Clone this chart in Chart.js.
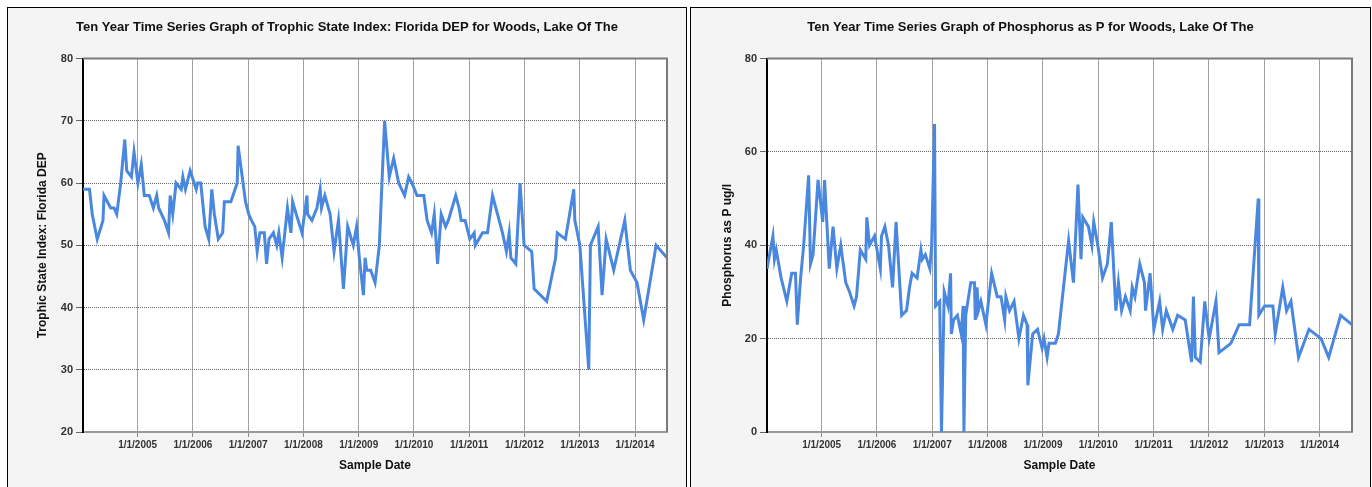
<!DOCTYPE html>
<html>
<head>
<meta charset="utf-8">
<script src="https://cdn.jsdelivr.net/npm/chart.js@4.4.1/dist/chart.umd.min.js"></script>
<style>
  body { margin: 0; background: #fff; width: 1372px; height: 487px; overflow: hidden; position: relative; }
  .panel { position: absolute; top: 7px; height: 500px; background: #f4f4f4; border: 1px solid #000; box-sizing: border-box; }
  .panel canvas { position: absolute; left: 0; top: 0; }
</style>
</head>
<body>
<div class="panel" style="left:7px;width:680px"><canvas id="tsi" width="678" height="478"></canvas></div>
<div class="panel" style="left:690px;width:681px"><canvas id="phos" width="679" height="478"></canvas></div>
<script>
// tick years shown on the date axis
var yearTicks = [2005, 2006, 2007, 2008, 2009, 2010, 2011, 2012, 2013, 2014];

// Trophic State Index: Florida DEP
var tsiDates = [
  '2004-01-06','2004-02-18','2004-03-07','2004-04-09','2004-05-17','2004-05-24','2004-07-07','2004-07-29','2004-08-16','2004-09-11',
  '2004-10-08','2004-10-21','2004-11-21','2004-12-08','2005-01-03','2005-01-25','2005-02-14','2005-03-19','2005-04-15','2005-05-07',
  '2005-05-20','2005-06-27','2005-07-24','2005-08-04','2005-08-21','2005-09-12','2005-10-16','2005-10-27','2005-11-13','2005-12-14',
  '2006-01-23','2006-02-01','2006-02-22','2006-03-23','2006-04-16','2006-05-06','2006-05-23','2006-06-18','2006-07-17','2006-07-28',
  '2006-09-09','2006-10-21','2006-10-27','2006-12-15','2007-01-05','2007-01-23','2007-02-14','2007-03-02','2007-03-20','2007-04-18',
  '2007-05-03','2007-05-19','2007-06-17','2007-07-09','2007-07-23','2007-08-14','2007-09-18','2007-10-11','2007-10-22','2007-11-15',
  '2007-12-23','2008-01-25','2008-01-29','2008-02-27','2008-03-31','2008-04-21','2008-04-30','2008-05-22','2008-06-26','2008-07-22',
  '2008-08-20','2008-09-22','2008-10-20','2008-11-26','2008-12-18','2009-01-05','2009-02-01','2009-02-12','2009-02-23','2009-03-21',
  '2009-04-19','2009-05-17','2009-06-21','2009-07-22','2009-08-20','2009-09-22','2009-10-31','2009-11-27','2009-12-19','2010-01-21',
  '2010-03-07','2010-03-29','2010-04-27','2010-05-15','2010-06-06','2010-06-30','2010-07-29','2010-08-16','2010-10-04','2010-10-26',
  '2010-11-09','2010-12-05','2011-01-05','2011-02-03','2011-02-10','2011-03-30','2011-05-02','2011-06-04','2011-07-07','2011-08-09',
  '2011-09-04','2011-09-22','2011-10-03','2011-11-05','2011-12-03','2011-12-30','2012-02-18','2012-03-05','2012-05-27','2012-07-25',
  '2012-08-05','2012-09-28','2012-11-22','2012-11-29','2013-01-01','2013-03-01','2013-03-12','2013-05-02','2013-05-28','2013-06-24',
  '2013-08-13','2013-10-25','2013-12-01','2014-01-14','2014-02-27','2014-05-20','2014-07-31'
];
var tsiValues = [
  59, 59, 55, 51, 54, 58, 56, 56, 55, 60,
  67, 62, 61, 65, 60, 63, 58, 58, 56, 58,
  56, 54, 52, 58, 55, 60, 59, 61, 59, 62,
  59, 60, 60, 53, 51, 59, 55, 51, 52, 57,
  57, 60, 66, 57, 55, 54, 53, 49, 52, 52,
  47, 51, 52, 50, 52, 48, 56, 52, 57, 55,
  52, 58, 55, 54, 56, 59, 56, 58, 55, 49,
  54, 43, 53, 50, 53, 48, 42, 48, 46, 46,
  44, 50, 70, 61, 64, 60, 58, 61, 60, 58,
  58, 54, 52, 55, 47, 55, 53, 54, 58, 56,
  54, 54, 51, 52, 50, 52, 52, 58, 55, 52,
  49, 52, 48, 47, 60, 50, 49, 43, 41, 48,
  52, 51, 59, 54, 50, 30, 50, 53, 42, 51,
  46, 54, 46, 44, 38, 50, 48
];

// Phosphorus as P ug/l
var phosDates = [
  '2004-01-06','2004-02-14','2004-02-24','2004-03-07','2004-04-08','2004-05-16','2004-06-17','2004-07-12','2004-07-24','2004-08-15',
  '2004-09-04','2004-09-17','2004-10-07','2004-10-19','2004-11-05','2004-12-08','2005-01-08','2005-01-20','2005-02-20','2005-03-17',
  '2005-04-11','2005-05-07','2005-06-09','2005-07-04','2005-08-03','2005-08-19','2005-09-13','2005-10-19','2005-10-26','2005-11-13',
  '2005-12-16','2006-01-23','2006-01-31','2006-02-22','2006-03-18','2006-04-14','2006-05-07','2006-06-13','2006-07-15','2006-08-04',
  '2006-08-21','2006-09-23','2006-10-18','2006-10-27','2006-11-16','2006-12-16','2006-12-28','2007-01-16','2007-01-23','2007-02-19',
  '2007-03-03','2007-03-21','2007-04-15','2007-05-02','2007-05-07','2007-05-22','2007-06-16','2007-07-11','2007-07-24','2007-07-29',
  '2007-08-10','2007-09-12','2007-10-07','2007-10-12','2007-10-24','2007-11-01','2007-11-18','2007-12-21','2008-01-28','2008-03-05',
  '2008-03-30','2008-04-23','2008-05-01','2008-05-25','2008-06-24','2008-07-26','2008-08-25','2008-09-18','2008-09-23','2008-10-25',
  '2008-11-26','2008-12-26','2009-01-08','2009-01-28','2009-02-10','2009-03-24','2009-04-13','2009-05-13','2009-06-19','2009-07-21',
  '2009-08-20','2009-09-09','2009-09-21','2009-10-28','2009-11-20','2009-12-02','2009-12-29','2010-01-29','2010-03-02','2010-03-28',
  '2010-04-27','2010-05-14','2010-06-04','2010-06-29','2010-07-31','2010-08-13','2010-08-31','2010-10-02','2010-11-02','2010-11-09',
  '2010-12-09','2011-01-03','2011-02-10','2011-03-02','2011-03-26','2011-05-08','2011-06-09','2011-07-29','2011-09-09','2011-09-21',
  '2011-10-04','2011-11-05','2011-12-05','2012-01-03','2012-02-17','2012-03-08','2012-05-25','2012-07-19','2012-09-26','2012-11-22',
  '2012-11-26','2013-01-03','2013-02-27','2013-03-14','2013-05-03','2013-05-28','2013-06-26','2013-08-15','2013-10-23','2014-01-11',
  '2014-03-02','2014-05-20','2014-08-03'
];
var phosValues = [
  35, 42, 37, 39, 33, 28, 34, 34, 23, 33,
  40, 46, 55, 36, 38, 54, 45, 54, 35, 44,
  35, 40, 32, 30, 27, 29, 39, 37, 46, 40,
  42, 35, 42, 44, 40, 31, 45, 25, 26, 31,
  34, 33, 39, 37, 38, 35, 40, 66, 27, 28,
  0, 30, 27, 34, 21, 24, 25, 21, 27, 0,
  25, 32, 32, 24, 31, 26, 28, 23, 34, 29,
  29, 24, 29, 26, 28, 20, 25, 23, 10, 21,
  22, 18, 20, 16, 19, 19, 21, 30, 41, 32,
  53, 37, 46, 44, 40, 45, 40, 33, 36, 45,
  26, 32, 26, 29, 26, 31, 29, 36, 32, 26,
  34, 22, 28, 22, 26, 22, 25, 24, 15, 29,
  16, 15, 28, 20, 28, 17, 19, 23, 23, 50,
  25, 27, 27, 21, 31, 26, 28, 16, 22, 20,
  16, 25, 23
];

function toPoints(dates, values) {
  return dates.map(function (d, i) {
    return { x: Date.parse(d), y: values[i] };
  });
}

var framePlugin = {
  id: 'frame',
  beforeDraw: function (chart) {
    var a = chart.chartArea, c = chart.ctx;
    c.save();
    c.fillStyle = '#fff';
    c.fillRect(a.left, a.top, a.right - a.left, a.bottom - a.top);
    c.restore();
  },
  afterDraw: function (chart) {
    var a = chart.chartArea, c = chart.ctx;
    c.save();
    c.lineWidth = 2;
    c.strokeStyle = '#7a7a7a';
    c.beginPath();
    c.moveTo(a.left, a.top);
    c.lineTo(a.right, a.top);
    c.lineTo(a.right, a.bottom);
    c.stroke();
    c.restore();
  }
};

function timeSeriesChart(id, title, yTitle, dates, values, yMin, yMax, yStep, sidePad, yWidth, yTitlePad) {
  var ctx = document.getElementById(id);
  var data = toPoints(dates, values);
  return new Chart(ctx, {
    type: 'line',
    data: {
      datasets: [{
        data: data,
        borderColor: '#4a87de',
        borderWidth: 3,
        pointRadius: 0,
        tension: 0,
        fill: false
      }]
    },
    plugins: [framePlugin],
    options: {
      responsive: false,
      animation: false,
      events: [],
      layout: { padding: { left: sidePad, right: sidePad, top: 0, bottom: 0 } },
      plugins: {
        legend: { display: false },
        tooltip: { enabled: false },
        title: {
          display: true,
          text: title,
          color: '#111',
          font: { family: 'Arial', size: 13, weight: 'bold' },
          padding: { top: 12, bottom: 23 }
        }
      },
      scales: {
        x: {
          type: 'linear',
          min: data[0].x,
          max: data[data.length - 1].x,
          afterBuildTicks: function (scale) {
            scale.ticks = yearTicks.map(function (y) { return { value: Date.UTC(y, 0, 1) }; });
          },
          afterFit: function (scale) { scale.height = 54; },
          ticks: {
            autoSkip: false,
            maxRotation: 0,
            padding: 2,
            color: '#333',
            font: { family: 'Arial', size: 10, weight: 'bold' },
            callback: function (v) { return '1/1/' + new Date(v).getUTCFullYear(); }
          },
          grid: { color: '#444', lineWidth: 1, tickLength: 5, tickColor: '#888', tickBorderDash: [] },
          border: { color: '#9a9a9a', width: 2, dash: [1, 1] },
          title: {
            display: true,
            text: 'Sample Date',
            color: '#111',
            font: { family: 'Arial', size: 12, weight: 'bold' },
            padding: { top: 0, bottom: 13 }
          }
        },
        y: {
          min: yMin,
          max: yMax,
          afterFit: function (scale) { scale.width = yWidth; },
          ticks: {
            stepSize: yStep,
            padding: 3,
            color: '#333',
            font: { family: 'Arial', size: 11, weight: 'bold' }
          },
          grid: { color: '#666', lineWidth: 1, tickLength: 7, tickColor: '#666', tickBorderDash: [] },
          border: { color: '#000', width: 2, dash: [1, 1] },
          title: {
            display: true,
            text: yTitle,
            color: '#111',
            font: { family: 'Arial', size: 12, weight: 'bold' },
            padding: { top: yTitlePad, bottom: 0 }
          }
        }
      }
    }
  });
}

timeSeriesChart('tsi', 'Ten Year Time Series Graph of Trophic State Index: Florida DEP for Woods, Lake Of The',
  'Trophic State Index: Florida DEP', tsiDates, tsiValues, 20, 80, 10, 19, 56, 8);
timeSeriesChart('phos', 'Ten Year Time Series Graph of Phosphorus as P for Woods, Lake Of The',
  'Phosphorus as P ug/l', phosDates, phosValues, 0, 80, 20, 18, 58, 11);
</script>
</body>
</html>
